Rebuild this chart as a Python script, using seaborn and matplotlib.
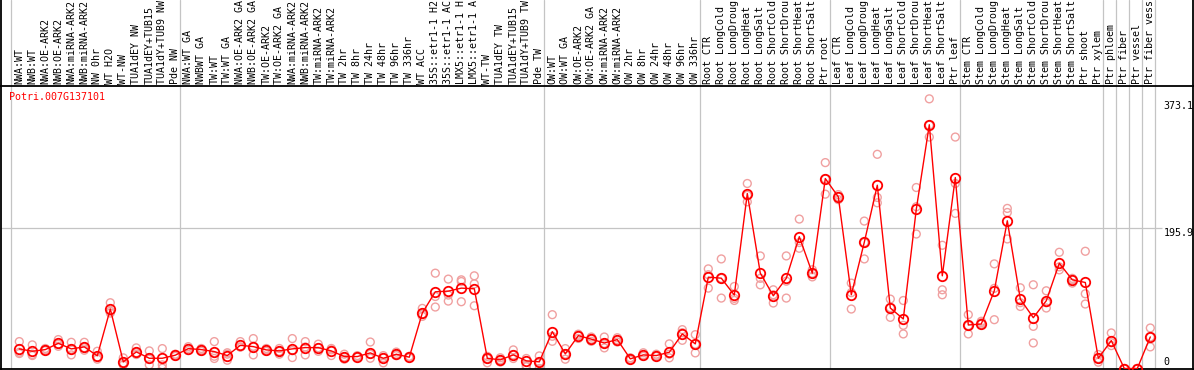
import numpy as np
import pandas as pd
import matplotlib
matplotlib.use("Agg")
import matplotlib.pyplot as plt
import seaborn as sns

sns.set_style("white")
plt.rcParams["font.family"] = ["DejaVu Sans Mono", "DejaVu Sans"]

gene = "Potri.007G137101"

samples = [
    "NWA:WT", "NWB:WT", "NWA:OE-ARK2", "NWB:OE-ARK2", "NWA:miRNA-ARK2", "NWB:miRNA-ARK2",
    "NW 0hr", "WT H2O", "WT-NW", "TUA1dEY NW", "TUA1dEY+TUB15", "TUA1dY+TUB9 NW", "Pde NW",
    "NWA:WT GA", "NWBWT GA", "TW:WT", "TW:WT GA", "NWA:OE-ARK2 GA", "NWB:OE-ARK2 GA",
    "TW:OE-ARK2", "TW:OE-ARK2 GA", "NWA:miRNA-ARK2", "NWB:miRNA-ARK2", "TW:miRNA-ARK2",
    "TW:miRNA-ARK2", "TW 2hr", "TW 8hr", "TW 24hr", "TW 48hr", "TW 96hr", "TW 336hr",
    "WT ACC", "35S::etr1-1 H2", "35S::etr1-1 AC", "LMX5::etr1-1 H", "LMX5::etr1-1 A",
    "WT-TW", "TUA1dEY TW", "TUA1dEY+TUB15", "TUA1dY+TUB9 TW", "Pde TW",
    "OW:WT", "OW:WT GA", "OW:OE-ARK2", "OW:OE-ARK2 GA", "OW:miRNA-ARK2", "OW:miRNA-ARK2",
    "OW 2hr", "OW 8hr", "OW 24hr", "OW 48hr", "OW 96hr", "OW 336hr",
    "Root CTR", "Root LongCold", "Root LongDroug", "Root LongHeat", "Root LongSalt",
    "Root ShortCold", "Root ShortDrou", "Root ShortHeat", "Root ShortSalt", "Ptr root",
    "Leaf CTR", "Leaf LongCold", "Leaf LongDroug", "Leaf LongHeat", "Leaf LongSalt",
    "Leaf ShortCold", "Leaf ShortDrou", "Leaf ShortHeat", "Leaf ShortSalt", "Ptr leaf",
    "Stem CTR", "Stem LongCold", "Stem LongDroug", "Stem LongHeat", "Stem LongSalt",
    "Stem ShortCold", "Stem ShortDrou", "Stem ShortHeat", "Stem ShortSalt", "Ptr shoot",
    "Ptr xylem", "Ptr phloem", "Ptr fiber", "Ptr vessel", "Ptr fiber vess",
]

means = [
    27.4, 24.1, 26.4, 35.2, 27.4, 30.2, 17.7, 83.1, 9.3, 23.2, 14.3, 14.3, 18.6,
    27.8, 26.4, 23.7, 18.1, 32.4, 30.6, 26.0, 24.6, 27.4, 29.2, 29.2, 24.6, 16.7,
    16.7, 21.8, 14.3, 19.9, 15.8, 77.5, 107.2, 108.1, 112.3, 111.4, 14.3, 12.1,
    19.0, 10.7, 9.3,
    51.5, 20.4, 45.9, 41.0, 35.7, 40.4, 13.5, 19.0, 18.1, 22.7, 48.3, 34.4,
    127.6, 126.2, 102.6, 244.5, 133.2, 101.6, 126.2, 184.2, 133.2, 265.4,
    239.9, 103.0, 176.4, 256.1, 84.5, 69.2, 222.7, 340.6, 129.5, 266.8,
    60.8, 62.2, 108.6, 206.4, 97.0, 71.0, 94.7, 147.1, 123.9, 120.2,
    14.3, 39.0, 0.0, 0.0, 44.1,
]

replicates = [
    [37.6, 22.7, 20.9], [33.0, 19.5, 18.1], [28.0, 25.0, 26.0], [40.4, 31.0, 34.0],
    [36.6, 19.0, 27.0], [36.6, 25.5, 29.0], [24.1, 13.0, 16.0], [91.9, 77.5, 80.0],
    [14.9, 7.9, 5.0], [28.8, 19.5, 22.0], [24.6, 5.1, 13.0], [27.8, 5.1, 0.5],
    [20.0, 17.0, 18.6], [30.5, 25.0, 28.0], [28.0, 24.0, 26.0], [37.6, 17.1, 14.0],
    [22.0, 11.6, 20.0], [37.6, 30.0, 30.0], [41.8, 19.0, 31.0], [28.0, 24.0, 26.0],
    [28.0, 20.0, 24.0], [41.8, 15.3, 25.0], [37.6, 19.0, 30.0], [34.0, 24.0, 29.0],
    [28.0, 18.1, 26.0], [20.0, 13.0, 16.0], [18.0, 16.0, 16.0], [37.0, 14.3, 20.0],
    [18.0, 7.9, 15.0], [23.0, 18.0, 20.0], [16.0, 15.0, 17.0], [84.0, 72.8, 76.0],
    [133.2, 100.6, 85.9], [124.9, 102.6, 94.2], [123.9, 121.5, 93.3], [129.5, 118.3, 87.7],
    [17.0, 8.0, 14.0], [15.0, 9.0, 12.0], [26.0, 14.0, 19.0], [14.0, 4.6, 2.5],
    [17.6, 0.0, 9.0],
    [75.2, 38.0, 45.0], [27.8, 13.0, 20.0], [48.0, 42.0, 46.0], [44.0, 38.0, 41.0],
    [44.0, 28.8, 35.0], [43.0, 37.0, 40.0], [15.0, 12.0, 13.0], [22.0, 17.0, 19.0],
    [20.0, 17.0, 18.0], [34.4, 14.9, 20.0], [54.3, 39.4, 50.0], [47.3, 21.8, 34.0],
    [139.2, 112.3, 131.0], [153.1, 98.4, 126.0], [114.6, 95.1, 98.0], [258.5, 232.9, 242.0],
    [157.3, 116.9, 126.0], [110.0, 91.5, 103.0], [157.3, 98.4, 122.0], [208.8, 168.0, 176.0],
    [138.0, 128.0, 133.0], [287.7, 243.6, 265.0],
    [243.0, 236.0, 240.0], [119.3, 83.1, 106.0], [206.0, 153.1, 176.0], [299.3, 239.0, 231.5],
    [97.0, 71.5, 85.0], [95.0, 60.3, 48.3], [252.9, 226.0, 187.9], [376.8, 323.4, 340.0],
    [172.2, 110.0, 103.0], [323.4, 258.5, 216.7],
    [75.2, 48.3, 60.0], [66.0, 64.0, 62.0], [146.2, 68.2, 112.0], [223.7, 181.0, 218.0],
    [112.8, 86.7, 92.0], [117.0, 58.9, 35.7], [108.6, 84.5, 92.0], [162.4, 137.8, 142.0],
    [119.3, 126.0, 124.0], [163.8, 104.4, 90.1],
    [19.5, 8.8, 14.0], [49.7, 32.0, 36.0], [0.0, 0.0, 0.0], [0.0, 0.0, 0.0], [56.6, 30.2, 44.0],
]

# group boundaries (index of first sample after each separator)
group_starts = [0, 13, 41, 53, 63, 73, 84, 85, 86, 87, 88]
tick_values = [373.1, 195.9, 0]
tick_labels = ["373.1", "195.9", "0"]

pos = np.arange(len(samples))
mean_df = pd.DataFrame({"pos": pos, "value": means})
rep_df = pd.DataFrame(
    [(i, v) for i, vals in enumerate(replicates) for v in vals], columns=["pos", "value"]
)

W, H = 1194, 370
fig = plt.figure(figsize=(W / 100, H / 100), dpi=100)
x0, x1 = 1, 1193
y_sep, y_bot = 85.5, 368.5
ax = fig.add_axes([x0 / W, (H - y_bot) / H, (x1 - x0) / W, (y_bot - y_sep) / H])
lab = fig.add_axes([x0 / W, (H - y_sep) / H, (x1 - x0) / W, y_sep / H], sharex=ax)

px_per_unit = 13.0
xlo = (x0 - 19.3) / px_per_unit
xhi = (x1 - 19.3) / px_per_unit
scale = 195.9 / (y_bot - 228.3)
ax.set_xlim(xlo, xhi)
ax.set_ylim(0, (y_bot - y_sep) * scale)
lab.set_ylim(0, y_sep)

grid = "#c4c4c4"
for g in group_starts:
    ax.axvline(g - 0.62, color=grid, lw=0.9, zorder=1)
    lab.axvline(g - 0.62, color=grid, lw=0.9, zorder=1)
ax.hlines(195.9, xlo, 87.9, color=grid, lw=0.9, zorder=1)

sns.scatterplot(data=rep_df, x="pos", y="value", ax=ax, marker="o", s=32,
                facecolor="none", edgecolor="#f0a0a0", linewidth=1.0, zorder=2, legend=False)
sns.lineplot(data=mean_df, x="pos", y="value", ax=ax, color="red", linewidth=1.0,
             marker="o", markersize=6.8, markerfacecolor="none", markeredgecolor="red",
             markeredgewidth=1.3, zorder=3)

for v, t in zip(tick_values, tick_labels):
    if v == 0:
        ax.text(88.0, 2.5, t, ha="left", va="bottom", fontsize=7.2, color="black")
    else:
        ax.text(88.0, v, t, ha="left", va="top", fontsize=7.2, color="black")

ax.text((9 - x0) / (x1 - x0), (y_bot - 97) / (y_bot - y_sep), gene, transform=ax.transAxes,
        ha="left", va="center", fontsize=7.2, color="red")

for i, s in enumerate(samples):
    lab.text(i, y_sep - 83.5, s, rotation=90, ha="center", va="bottom", fontsize=7.2,
             color="black", rotation_mode="default")

for a in (ax, lab):
    a.set_xlabel("")
    a.set_ylabel("")
    a.set_xticks([])
    a.set_yticks([])
    for sp in a.spines.values():
        sp.set_color("black")
        sp.set_linewidth(1.3)
lab.spines["top"].set_visible(False)
ax.spines["top"].set_visible(False)

fig.savefig("out.png", dpi=100, facecolor="white")
